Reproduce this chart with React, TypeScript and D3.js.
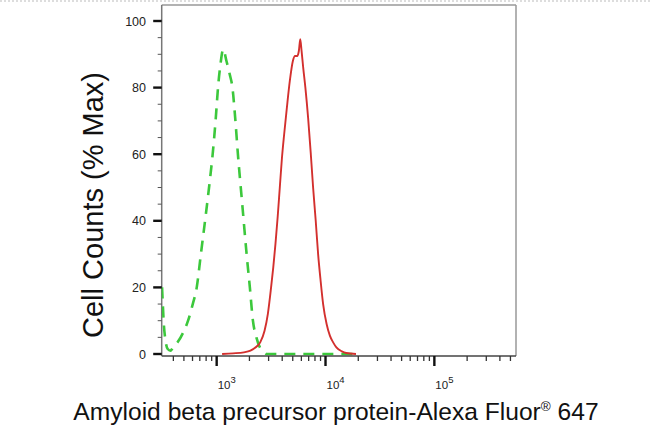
import React from "react";
import * as d3 from "d3";

// Isotype control (green dashed) – fluorescence intensity vs % max
const controlIntensity = [315, 320, 327, 339, 355, 376, 398, 437, 490, 546, 603, 656, 716, 782, 851, 925, 977, 1035, 1084, 1148, 1230, 1318, 1396, 1479, 1567, 1718, 1884, 2018, 2153, 2317, 2495, 2692, 2884, 6310, 10000, 20000];
const controlCount = [20, 15, 9, 4, 1.5, 1, 2, 3.5, 6.3, 10, 15, 20, 30, 40, 50, 61, 70, 81, 87, 91.5, 88, 84, 80, 71, 60, 45, 30, 20, 10, 5, 2, 0.8, 0, 0, 0, 0];

// Amyloid beta precursor protein stained (red solid)
const sampleIntensity = [1122, 1413, 1778, 2042, 2239, 2512, 2754, 2951, 3162, 3311, 3467, 3631, 3802, 3981, 4169, 4416, 4699, 5012, 5248, 5495, 5689, 5861, 6026, 6237, 6531, 6918, 7328, 7691, 8128, 8551, 9016, 9506, 10233, 10965, 11749, 12589, 14125, 15488, 19055];
const sampleCount = [0, 0.2, 0.5, 1, 1.8, 3.5, 7, 12, 20, 26, 33, 41, 50, 59, 66, 74, 82, 88, 89.5, 89.5, 91, 94.5, 91, 86, 80, 71, 60, 50, 40, 30, 22, 15, 9, 5.5, 3.5, 2, 0.8, 0.3, 0];

const yMajorTicks = [0, 20, 40, 60, 80, 100];
const xMajorExponents = [3, 4, 5];
const xTitle = "Amyloid beta precursor protein-Alexa Fluor";
const xTitleTail = " 647";
const yTitle = "Cell Counts (% Max)";

const W = 650;
const H = 429;
const L = 161.7;
const R = 516;
const T = 5;
const B = 356;

export default function App() {
  const x = d3.scaleLog().domain([Math.pow(10, 2.495), Math.pow(10, 5.75)]).range([L, R]);
  const y = d3.scaleLinear().domain([0, 100]).range([354, 21]);

  const line = d3
    .line<[number, number]>()
    .x((d) => x(d[0]))
    .y((d) => y(d[1]))
    .curve(d3.curveMonotoneX);

  const controlData = controlIntensity.map((v, i) => [v, controlCount[i]] as [number, number]);
  const sampleData = sampleIntensity.map((v, i) => [v, sampleCount[i]] as [number, number]);

  const yMinor = d3.range(0, 101, 5).filter((v) => !yMajorTicks.includes(v));
  const xMinor: number[] = [];
  for (let e = 2; e <= 5; e++) {
    for (let m = 2; m <= 9; m++) {
      const v = m * Math.pow(10, e);
      if (x(v) >= L + 2 && x(v) <= R - 1) xMinor.push(v);
    }
  }

  return (
    <svg
      width={W}
      height={H}
      style={{ position: "absolute", left: 0, top: 0, display: "block", background: "#fff" }}
      fontFamily="'Liberation Sans', Arial, sans-serif"
    >
      <defs>
        <clipPath id="plotClip">
          <rect x={L} y={T} width={R - L} height={B - T} />
        </clipPath>
      </defs>
      {/* dotted top border of image */}
      <line x1={0} x2={W} y1={1} y2={1} stroke="#bbb" strokeWidth={1} strokeDasharray="2,2" />

      {/* frame */}
      <line x1={L} x2={R} y1={T} y2={T} stroke="#999" strokeWidth={1.5} />
      <line x1={R} x2={R} y1={T} y2={B} stroke="#999" strokeWidth={1.5} />
      <line x1={L} x2={L} y1={T} y2={B} stroke="#777" strokeWidth={1.5} />

      {/* curves */}
      <g clipPath="url(#plotClip)">
        <path d={line(controlData) || ""} fill="none" stroke="#3cc83c" strokeWidth={2.6} strokeDasharray="11,8" />
        <path d={line(sampleData) || ""} fill="none" stroke="#d3302e" strokeWidth={1.9} />
      </g>

      <line x1={L} x2={R} y1={B} y2={B} stroke="#444" strokeWidth={1.5} />

      {/* y ticks */}
      {yMinor.map((v) => (
        <line key={"ym" + v} x1={L - 4} x2={L} y1={y(v)} y2={y(v)} stroke="#555" strokeWidth={1} />
      ))}
      {yMajorTicks.map((v) => (
        <g key={"yM" + v}>
          <line x1={L - 8.5} x2={L} y1={y(v)} y2={y(v)} stroke="#111" strokeWidth={2.4} />
          <text x={146} y={y(v)} dy="0.36em" textAnchor="end" fontSize={12.5} fill="#222">
            {v}
          </text>
        </g>
      ))}

      {/* x ticks */}
      {xMinor.map((v) => (
        <line key={"xm" + v} x1={x(v)} x2={x(v)} y1={B} y2={B + 5} stroke="#333" strokeWidth={1.3} />
      ))}
      {xMajorExponents.map((e) => {
        const px = x(Math.pow(10, e));
        return (
          <g key={"xM" + e}>
            <line x1={px} x2={px} y1={B} y2={B + 10} stroke="#111" strokeWidth={2.4} />
            <text x={px + 1} y={389} fontSize={11.5} fill="#222">
              10
              <tspan fontSize={9.5} dy={-6}>
                {e}
              </tspan>
            </text>
          </g>
        );
      })}

      {/* axis titles */}
      <text x={336} y={420} textAnchor="middle" fontSize={24.6} fill="#111">
        {xTitle}
        <tspan fontSize={13.5} dy={-9}>®</tspan>
        <tspan dy={9}>{xTitleTail}</tspan>
      </text>
      <text
        transform={`translate(103,205) rotate(-90)`}
        textAnchor="middle"
        fontSize={29}
        fill="#111"
      >
        {yTitle}
      </text>
    </svg>
  );
}
